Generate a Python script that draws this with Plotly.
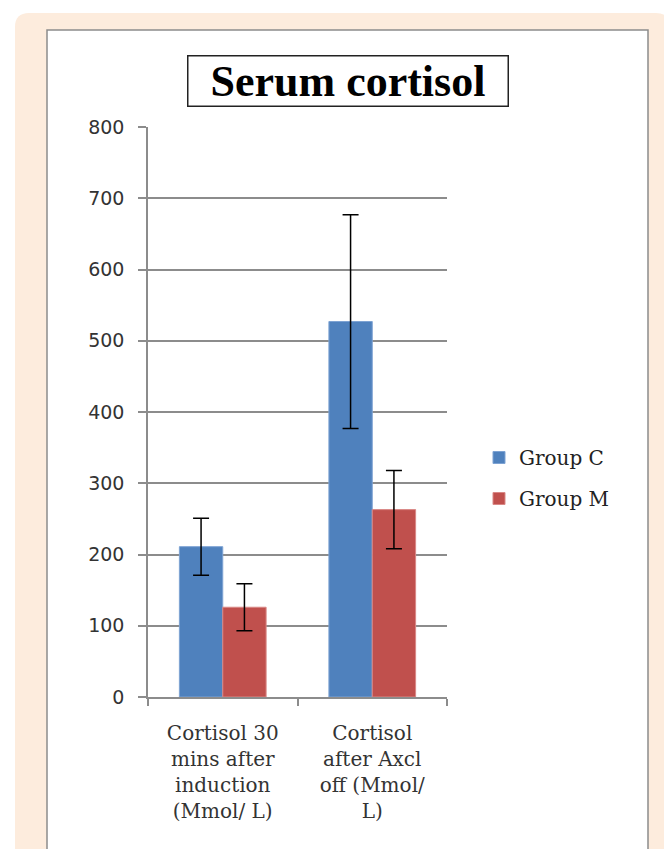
import plotly.graph_objects as go

categories = ["Cortisol 30<br>mins after<br>induction<br>(Mmol/ L)",
              "Cortisol<br>after Axcl<br>off (Mmol/<br>L)"]
group_c = [211, 527]
group_c_err = [40, 150]
group_m = [126, 263]
group_m_err = [33, 55]

OFF = 8  # page body margin in the browser
W, H = 672 - OFF, 849 - OFF
L, R, T, B = 148 - OFF, 447 - OFF, 127 - OFF, 697 - OFF  # plot area in pixels


def px(x):
    return (x - OFF - L) / (R - L)


def py(y):
    return (B - (y - OFF)) / (B - T)


def rounded_path(x0, y0, x1, y1, r):
    # rounded rectangle given in reference pixel coords -> paper coords
    pts = [
        f"M {px(x0 + r)} {py(y0)}",
        f"L {px(x1 - r)} {py(y0)}",
        f"Q {px(x1)} {py(y0)} {px(x1)} {py(y0 + r)}",
        f"L {px(x1)} {py(y1)}",
        f"L {px(x0)} {py(y1)}",
        f"L {px(x0)} {py(y0 + r)}",
        f"Q {px(x0)} {py(y0)} {px(x0 + r)} {py(y0)}",
        "Z",
    ]
    return " ".join(pts)


fig = go.Figure()

fig.add_trace(go.Bar(
    x=categories, y=group_c, name="Group C", legendgroup="c",
    marker=dict(color="#4f81bd", line=dict(color="#7ea3d3", width=1)),
    error_y=dict(type="data", array=group_c_err, color="black", thickness=1.5, width=8),
))
fig.add_trace(go.Bar(
    x=categories, y=group_m, name="Group M", legendgroup="m",
    marker=dict(color="#c0504d", line=dict(color="#d98886", width=1)),
    error_y=dict(type="data", array=group_m_err, color="black", thickness=1.5, width=8),
))

shapes = [
    # peach card
    dict(type="path", xref="paper", yref="paper", layer="below",
         path=rounded_path(15, 13, 670, 880, 14),
         fillcolor="#fdecdd", line=dict(width=0)),
    # white panel
    dict(type="rect", xref="paper", yref="paper", layer="below",
         x0=px(47), x1=px(648), y0=py(30), y1=py(880),
         fillcolor="white", line=dict(color="#8c8c8c", width=1.5)),
]

fig.update_layout(
    width=W, height=H,
    margin=dict(l=L, r=W - R, t=T, b=H - B, autoexpand=False),
    paper_bgcolor="white",
    plot_bgcolor="rgba(0,0,0,0)",
    barmode="group",
    bargap=0.42,
    bargroupgap=0,
    shapes=shapes,
    showlegend=True,
    legend=dict(
        x=px(479), y=py(478), xanchor="left", yanchor="middle",
        font=dict(family="DejaVu Serif", size=20, color="#222"),
        bgcolor="rgba(0,0,0,0)", traceorder="grouped", tracegroupgap=12,
        itemwidth=30,
    ),
    annotations=[dict(
        text="&nbsp;&nbsp;<b>Serum cortisol</b>&nbsp;&nbsp;", xref="paper", yref="paper",
        x=px(348), y=py(81), xanchor="center", yanchor="middle",
        showarrow=False,
        font=dict(family="Liberation Serif", size=44, color="black"),
        bordercolor="#222", borderwidth=1.5, borderpad=0, bgcolor="white",
    )],
)

fig.update_yaxes(
    range=[0, 800], dtick=100,
    showline=True, linecolor="#8c8c8c", linewidth=1.5,
    ticks="outside", ticklen=8, tickcolor="#8c8c8c", tickwidth=1.5,
    showgrid=True, gridcolor="#8c8c8c", gridwidth=1.5,
    zeroline=False,
    tickfont=dict(family="DejaVu Sans", size=19, color="#333"),
    ticklabelstandoff=10,
)
fig.update_xaxes(
    showline=True, linecolor="#8c8c8c", linewidth=1.5,
    ticks="outside", tickson="boundaries", ticklen=7, tickcolor="#8c8c8c", tickwidth=1.5,
    showgrid=False,
    tickfont=dict(family="DejaVu Serif", size=20, color="#333"),
    ticklabelstandoff=17,
)

fig.write_html("out.html")
